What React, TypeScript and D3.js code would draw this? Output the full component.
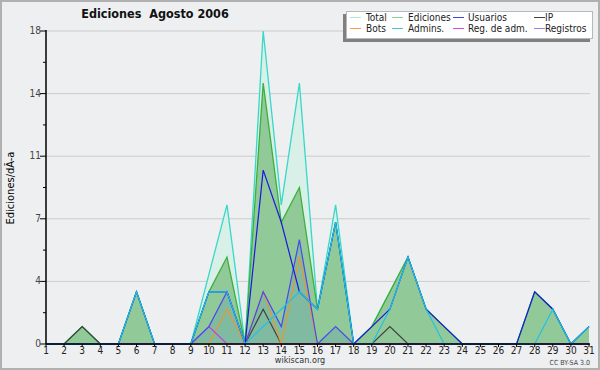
import React, { useEffect, useRef } from 'react';
import * as d3 from 'd3';

// Days of August 2006
const days = d3.range(1, 32);

// Edits per day
const total = [0, 0, 1, 0, 0, 3, 0, 0, 0, 4, 8, 0, 18, 8, 15, 2, 8, 0, 1, 3, 5, 2, 1, 0, 0, 0, 0, 3, 2, 0, 1];
const ediciones = [0, 0, 1, 0, 0, 3, 0, 0, 0, 3, 5, 0, 15, 7, 9, 2, 7, 0, 1, 3, 5, 2, 1, 0, 0, 0, 0, 3, 2, 0, 1];
const usuarios = [0, 0, 0, 0, 0, 3, 0, 0, 0, 3, 3, 0, 10, 7, 3, 2, 7, 0, 1, 2, 5, 2, 1, 0, 0, 0, 0, 3, 2, 0, 1];
const ip = [0, 0, 1, 0, 0, 0, 0, 0, 0, 0, 0, 0, 2, 0, 0, 0, 0, 0, 0, 1, 0, 0, 0, 0, 0, 0, 0, 0, 0, 0, 0];
const bots = [0, 0, 0, 0, 0, 0, 0, 0, 0, 0, 2, 0, 3, 0, 5, 0, 0, 0, 0, 0, 0, 0, 0, 0, 0, 0, 0, 0, 0, 0, 0];
const admins = [0, 0, 0, 0, 0, 3, 0, 0, 0, 3, 3, 0, 1, 2, 3, 2, 7, 0, 0, 2, 5, 2, 0, 0, 0, 0, 0, 0, 2, 0, 1];
const regAdm = [0, 0, 0, 0, 0, 0, 0, 0, 0, 1, 0, 0, 0, 0, 0, 0, 0, 0, 0, 0, 0, 0, 0, 0, 0, 0, 0, 0, 0, 0, 0];
const registros = [0, 0, 0, 0, 0, 0, 0, 0, 0, 1, 3, 0, 3, 1, 6, 0, 1, 0, 0, 0, 0, 0, 0, 0, 0, 0, 0, 0, 0, 0, 0];

const yTicks = [0, 3.6, 7.2, 10.8, 14.4, 18];
const yMinor = [1.8, 5.4, 9, 12.6, 16.2];

const legendItems = [
	{ name: 'Total', color: '#a8e8e0', col: 0, row: 0 },
	{ name: 'Ediciones', color: '#88d088', col: 1, row: 0 },
	{ name: 'Usuarios', color: '#4444e0', col: 2, row: 0 },
	{ name: 'IP', color: '#404040', col: 3, row: 0 },
	{ name: 'Bots', color: '#f0a040', col: 0, row: 1 },
	{ name: 'Admins.', color: '#40c8e0', col: 1, row: 1 },
	{ name: 'Reg. de adm.', color: '#d848e0', col: 2, row: 1 },
	{ name: 'Registros', color: '#8888f0', col: 3, row: 1 },
];

function App() {
	const ref = useRef<SVGSVGElement>(null);

	useEffect(() => {
		const svg = d3.select(ref.current);
		svg.selectAll('*').remove();

		const W = 600;
		const H = 370;
		const font = '"DejaVu Sans Condensed", "DejaVu Sans", sans-serif';

		// background + border
		svg.append('rect').attr('x', 1).attr('y', 1).attr('width', W - 2).attr('height', H - 2)
			.attr('fill', '#eeeff1').attr('stroke', '#b0b0b0').attr('stroke-width', 2);

		// Scales
		const x = d3.scaleLinear().domain([1, 31]).range([46, 589]);
		const y = d3.scaleLinear().domain([0, 18]).range([344, 31]);

		// Grid
		svg.append('g').selectAll('line').data(yTicks.slice(1)).enter().append('line')
			.attr('x1', 46).attr('x2', 590)
			.attr('y1', (d) => y(d)).attr('y2', (d) => y(d))
			.attr('stroke', '#cccccc').attr('stroke-width', 1);

		// Areas
		const area = (vals: number[]) =>
			d3.area<number>().x((d, i) => x(days[i])).y0(y(0)).y1((d) => y(d))(vals);
		const line = (vals: number[]) =>
			d3.line<number>().x((d, i) => x(days[i])).y((d) => y(d))(vals);

		svg.append('path').attr('d', area(total)).attr('fill', '#d8f0e7');
		svg.append('path').attr('d', line(total)).attr('fill', 'none').attr('stroke', '#38d8c8').attr('stroke-width', 1.3);
		svg.append('path').attr('d', area(ediciones)).attr('fill', '#92c998');
		svg.append('path').attr('d', area(registros)).attr('fill', 'rgba(40,110,210,0.16)');
		svg.append('path').attr('d', line(ediciones)).attr('fill', 'none').attr('stroke', '#3cb03c').attr('stroke-width', 1.3);

		const lines = [
			{ vals: ip, color: '#404040' },
			{ vals: bots, color: '#e89830' },
			{ vals: regAdm, color: '#c040e0' },
			{ vals: registros, color: '#4848f0' },
			{ vals: usuarios, color: '#1818e0' },
			{ vals: admins, color: '#20c0e8' },
		];
		lines.forEach((s) => {
			svg.append('path').attr('d', line(s.vals)).attr('fill', 'none')
				.attr('stroke', s.color).attr('stroke-width', 1.2);
		});

		// Axes
		const yAxis = svg.append('g').attr('font-family', font).attr('font-size', 10);
		yAxis.append('line').attr('x1', 46).attr('x2', 46).attr('y1', 30).attr('y2', 344).attr('stroke', '#000').attr('stroke-width', 1.5);
		yAxis.selectAll('.maj').data(yTicks).enter().append('line')
			.attr('x1', 40).attr('x2', 46).attr('y1', (d) => y(d)).attr('y2', (d) => y(d)).attr('stroke', '#000');
		yAxis.selectAll('.min').data(yMinor).enter().append('line')
			.attr('x1', 43).attr('x2', 46).attr('y1', (d) => y(d)).attr('y2', (d) => y(d)).attr('stroke', '#000');
		yAxis.selectAll('text').data(yTicks).enter().append('text')
			.attr('x', 41).attr('y', (d) => y(d) + 3).attr('text-anchor', 'end').attr('fill', '#444')
			.text((d) => Math.round(d));

		const xAxis = svg.append('g').attr('font-family', font).attr('font-size', 10);
		xAxis.append('line').attr('x1', 46).attr('x2', 590).attr('y1', 344).attr('y2', 344).attr('stroke', '#000').attr('stroke-width', 1.5);
		xAxis.selectAll('line.t').data(days).enter().append('line')
			.attr('x1', (d) => x(d)).attr('x2', (d) => x(d)).attr('y1', 344).attr('y2', 347).attr('stroke', '#000');
		xAxis.selectAll('text').data(days).enter().append('text')
			.attr('x', (d) => x(d)).attr('y', 354).attr('text-anchor', 'middle').attr('fill', '#222')
			.text((d) => d);

		// Y label
		svg.append('text').attr('transform', 'translate(14,188) rotate(-90)').attr('text-anchor', 'middle')
			.attr('font-family', font).attr('font-size', 11).attr('fill', '#000').text('Ediciones/dÃ-a');

		// Title
		svg.append('text').attr('x', 155).attr('y', 18).attr('text-anchor', 'middle')
			.attr('font-family', font).attr('font-size', 12.5).attr('font-weight', 'bold').attr('fill', '#111')
			.attr('xml:space', 'preserve').style('white-space', 'pre')
			.text('Ediciones  Agosto 2006');

		// Legend
		const lg = svg.append('g').attr('font-family', font).attr('font-size', 10);
		lg.append('rect').attr('x', 343).attr('y', 14).attr('width', 247).attr('height', 28).attr('fill', '#808080');
		lg.append('rect').attr('x', 346.5).attr('y', 11.5).attr('width', 246).attr('height', 27)
			.attr('fill', '#fff').attr('stroke', '#b8b8b8');
		const colSw = [350, 392, 453, 534];
		const colTx = [366, 408, 468, 545];
		const rowY = [21, 32];
		legendItems.forEach((it) => {
			lg.append('line').attr('x1', colSw[it.col]).attr('x2', colSw[it.col] + 11)
				.attr('y1', rowY[it.row] - 3.5).attr('y2', rowY[it.row] - 3.5).attr('stroke', it.color).attr('stroke-width', 1);
			lg.append('text').attr('x', colTx[it.col]).attr('y', rowY[it.row]).attr('fill', '#222').text(it.name);
		});

		// Footer
		svg.append('text').attr('x', 300).attr('y', 363).attr('text-anchor', 'middle')
			.attr('font-family', font).attr('font-size', 9).attr('fill', '#333').text('wikiscan.org');
		svg.append('text').attr('x', 590).attr('y', 365).attr('text-anchor', 'end')
			.attr('font-family', font).attr('font-size', 7).attr('fill', '#444').text('CC BY-SA 3.0');
	}, []);

	return (
		<svg
			ref={ref}
			width={600}
			height={370}
			style={{ position: 'absolute', left: 0, top: 0, display: 'block' }}
		></svg>
	);
}

export default App;
